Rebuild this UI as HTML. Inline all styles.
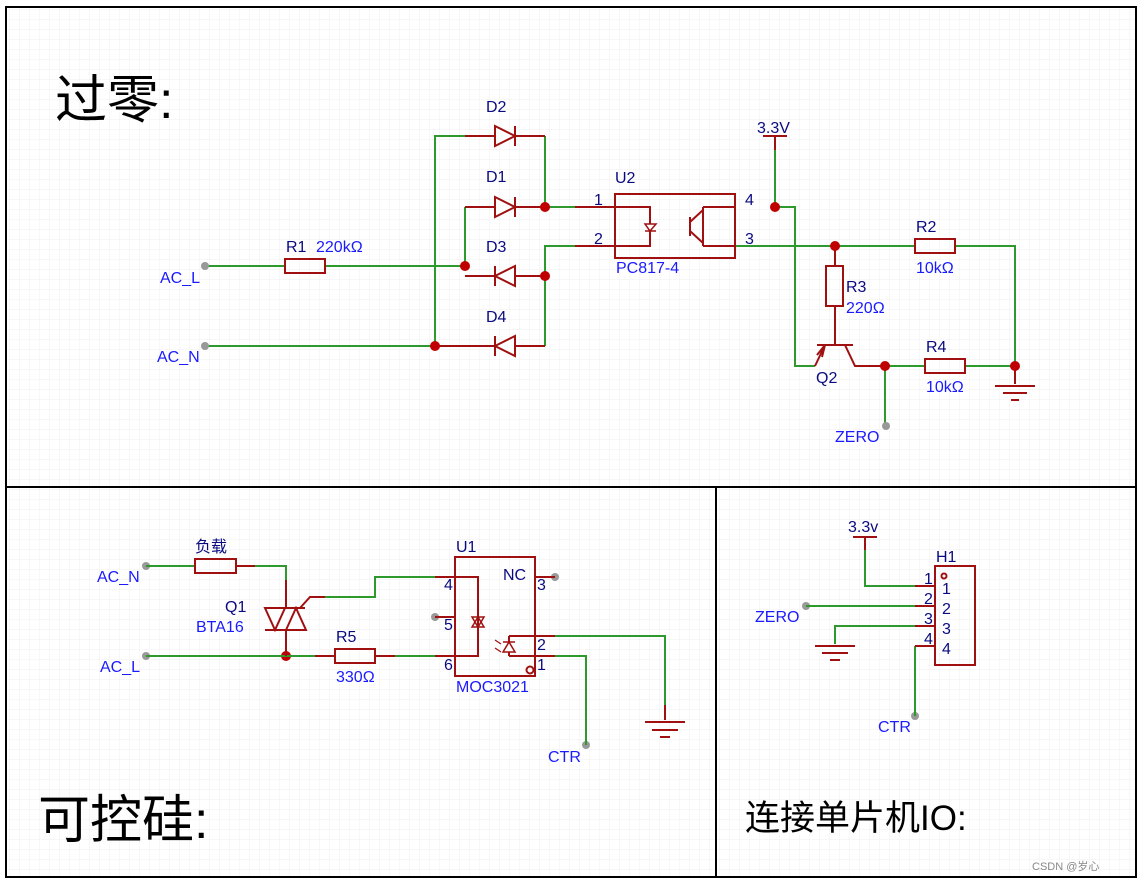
<!DOCTYPE html>
<html><head><meta charset="utf-8"><style>
body{margin:0;background:#fff}
svg{display:block}
text{font-family:"Liberation Sans","Noto Sans CJK SC",sans-serif}
</style></head><body>
<svg width="1142" height="881" viewBox="0 0 1142 881" xmlns="http://www.w3.org/2000/svg">
<defs>
<pattern id="g" width="10" height="10" patternUnits="userSpaceOnUse"><path d="M10 0V10H0" fill="none" stroke="#efefef" stroke-width="1"/></pattern>
</defs>
<rect width="1142" height="881" fill="#fff"/>
<rect x="6" y="7" width="1130" height="870" fill="url(#g)"/>
<g fill="none" stroke="#000" stroke-width="2">
<rect x="6" y="7" width="1130" height="870"/>
<line x1="6" y1="487" x2="1136" y2="487"/>
<line x1="716" y1="487" x2="716" y2="877"/>
</g>
<text x="55" y="118" font-size="52" fill="#000">过零:</text>
<text x="38" y="838" font-size="52" fill="#000">可控硅:</text>
<text x="745" y="830" font-size="35" fill="#000">连接单片机IO:</text>
<text x="1032" y="870" font-size="11" fill="#888">CSDN @岁心</text>

<g stroke="#2e9a2e" stroke-width="2" fill="none">
<path d="M205 266H285M325 266H465M205 346H435M435 346V136H465M465 266V207"/>
<path d="M545 136V207M545 207H575M545 346V246H575"/>
<path d="M775 150V207H795V366H815M735 246H915M955 246H1015V366M885 366H925M965 366H1015M885 366V426"/>
</g>
<g stroke="#a01010" stroke-width="2" fill="none">
<rect x="285" y="259" width="40" height="14"/>
<path d="M465 136H545M465 207H545M465 276H545M435 346H545"/>
<path d="M575 207H650V246H575"/>
<rect x="615" y="194" width="120" height="64"/>
<path d="M703 207H735M703 246H735M703 207V246M690 217V236M690 222L703 210M690 231L703 243"/>
<path d="M763 136H787M775 136V150"/>
<rect x="915" y="239" width="40" height="14"/>
<rect x="826" y="266" width="17" height="40"/>
<path d="M835 246V266M835 306V345M817 345H853M825 345L815 366M845 345L855 366H885"/>
<path d="M825 345L817 355M825 345L822 357" />
<rect x="925" y="359" width="40" height="14"/>
<path d="M1015 366V384M995 386H1035M1003 393H1027M1011 400H1019"/>
</g>
<g stroke="#a01010" stroke-width="2" fill="#fff">
<path d="M495 126L515 136L495 146Z M515 126V146"/>
<path d="M495 197L515 207L495 217Z M515 197V217"/>
<path d="M515 266L495 276L515 286Z M495 266V286"/>
<path d="M515 336L495 346L515 356Z M495 336V356"/>
<path d="M645 224H656L650 231Z M645 231H656" stroke-width="1.5"/>
</g>
<g fill="#c00000">
<circle cx="545" cy="207" r="5"/><circle cx="465" cy="266" r="5"/><circle cx="545" cy="276" r="5"/><circle cx="435" cy="346" r="5"/>
<circle cx="775" cy="207" r="5"/><circle cx="835" cy="246" r="5"/><circle cx="885" cy="366" r="5"/><circle cx="1015" cy="366" r="5"/>
<circle cx="286" cy="656" r="5"/>
</g>
<g fill="#999"><circle cx="205" cy="266" r="4"/><circle cx="205" cy="346" r="4"/><circle cx="886" cy="426" r="4"/>
<circle cx="146" cy="566" r="4"/><circle cx="146" cy="656" r="4"/><circle cx="435" cy="617" r="4"/><circle cx="555" cy="577" r="4"/><circle cx="586" cy="745" r="4"/>
<circle cx="806" cy="606" r="4"/><circle cx="915" cy="716" r="4"/></g>

<g font-size="16" fill="#0a0a80">
<text x="486" y="112">D2</text><text x="486" y="182">D1</text><text x="486" y="252">D3</text><text x="486" y="322">D4</text>
<text x="286" y="252">R1</text><text x="615" y="183">U2</text><text x="594" y="205">1</text><text x="594" y="244">2</text>
<text x="745" y="205">4</text><text x="745" y="244">3</text><text x="757" y="133">3.3V</text>
<text x="916" y="232">R2</text><text x="846" y="292">R3</text><text x="926" y="352">R4</text><text x="816" y="383">Q2</text>
<text x="195" y="552">负载</text><text x="225" y="612">Q1</text><text x="336" y="642">R5</text><text x="456" y="552">U1</text>
<text x="503" y="580">NC</text><text x="444" y="590">4</text><text x="444" y="630">5</text><text x="444" y="670">6</text>
<text x="537" y="590">3</text><text x="537" y="650">2</text><text x="537" y="670">1</text>
<text x="848" y="532">3.3v</text><text x="936" y="562">H1</text>
<text x="924" y="584">1</text><text x="924" y="604">2</text><text x="924" y="624">3</text><text x="924" y="644">4</text>
<text x="942" y="594">1</text><text x="942" y="614">2</text><text x="942" y="634">3</text><text x="942" y="654">4</text>
</g>
<g font-size="16" fill="#1a1aff">
<text x="316" y="252">220kΩ</text><text x="160" y="283">AC_L</text><text x="157" y="362">AC_N</text>
<text x="616" y="273">PC817-4</text><text x="916" y="273">10kΩ</text><text x="846" y="313">220Ω</text><text x="926" y="392">10kΩ</text>
<text x="835" y="442">ZERO</text>
<text x="97" y="582">AC_N</text><text x="100" y="672">AC_L</text><text x="196" y="632">BTA16</text><text x="336" y="682">330Ω</text>
<text x="456" y="692">MOC3021</text><text x="548" y="762">CTR</text>
<text x="755" y="622">ZERO</text><text x="878" y="732">CTR</text>
</g>

<g stroke="#2e9a2e" stroke-width="2" fill="none">
<path d="M146 566H195M255 566H286V580M325 597H375V577H435M146 656H315M395 656H435M555 636H665V705M555 656H586V745"/>
<path d="M865 550V586H915M806 606H915M915 626H835V644M915 646V716"/>
</g>
<g stroke="#a01010" stroke-width="2" fill="none">
<rect x="195" y="559" width="41" height="14"/>
<path d="M236 566H255M286 580V608M286 630V656M315 656H335M375 656H395"/>
<rect x="335" y="649" width="40" height="14"/>
<path d="M265 608H305M265 630H305M300 608L310 597H325"/>
<path d="M435 577H478V656H435M435 617H455M535 577H555"/>
<rect x="455" y="557" width="80" height="119"/>
<path d="M509 636H555M509 656H555M509 636V656"/>
<circle cx="530" cy="670" r="3.5"/>
<path d="M665 705V720M645 722H685M652 730H678M660 737H670"/>
<path d="M853 537H877M865 537V550M915 586H935M915 606H935M915 626H935M915 646H935"/>
<rect x="935" y="566" width="40" height="99"/>
<circle cx="944" cy="576" r="2.5"/>
<path d="M815 646H855M822 653H848M830 660H840"/>
</g>
<g stroke="#a01010" stroke-width="2" fill="#fff">
<path d="M265 608L275 630L285 608Z"/>
<path d="M286 630L296 608L306 630Z"/>
<path d="M472 627L478 617L484 627ZM472 617L478 627L484 617Z M472 617H484" stroke-width="1.5"/>
<path d="M503 652L509 642L515 652Z M503 642H515" stroke-width="1.5"/>
<path d="M495 640L501 644M495 648L501 652" stroke-width="1.2"/>
</g>
</svg>
</body></html>
